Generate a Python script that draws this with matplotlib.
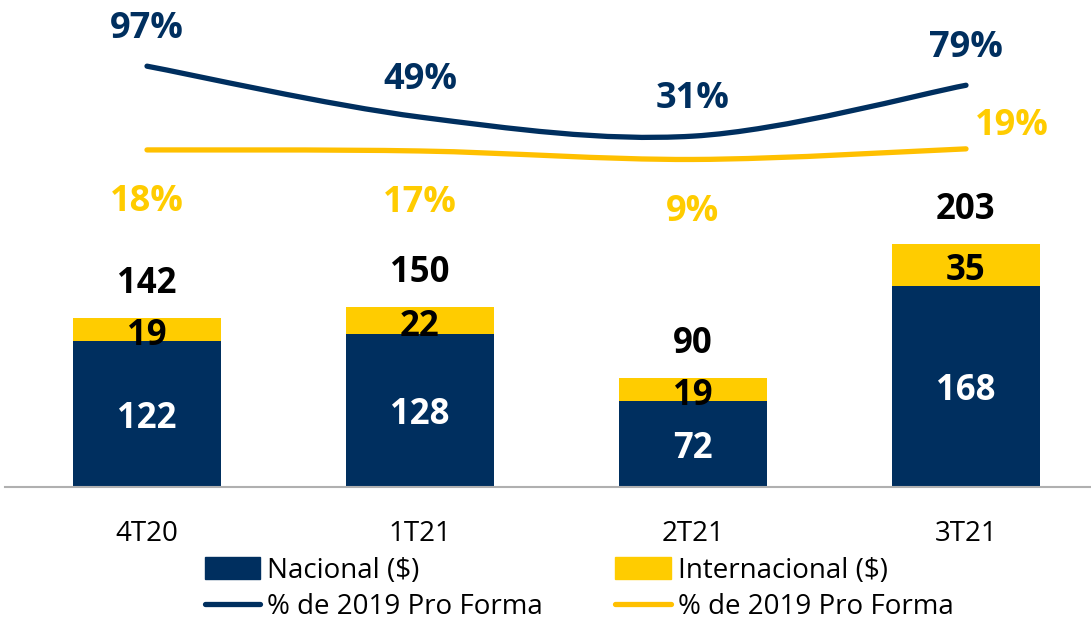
import numpy as np
import matplotlib.pyplot as plt
from matplotlib.path import Path
from matplotlib.patches import PathPatch, Patch
from matplotlib.lines import Line2D

plt.rcParams['font.family'] = ['Open Sans', 'DejaVu Sans']

quarters = ['4T20', '1T21', '2T21', '3T21']
nacional = [122, 128, 72, 168]
internacional = [19, 22, 19, 35]
totals = [142, 150, 90, 203]
pct_nacional = [97, 49, 31, 79]
pct_internacional = [18, 17, 9, 19]

NAVY = '#002f5f'
YELLOW = '#ffcc00'
YELLOW_LINE = '#ffc000'


def smooth_path(x, y):
    # catmull-rom style bezier, like excel's smoothed lines
    pts = np.column_stack([x, y]).astype(float)
    p = np.vstack([pts[0], pts, pts[-1]])
    verts = [pts[0]]
    codes = [Path.MOVETO]
    for i in range(1, len(p) - 2):
        c1 = p[i] + (p[i + 1] - p[i - 1]) / 6
        c2 = p[i + 1] - (p[i + 2] - p[i]) / 6
        verts += [c1, c2, p[i + 1]]
        codes += [Path.CURVE4] * 3
    return Path(verts, codes)


def label(axis, text, xy, dx, dy, color, size=25):
    # dy in points, nudged down a bit so glyphs sit like the original
    axis.annotate(text, xy, xytext=(dx, dy - 3.5), textcoords='offset points',
                  ha='center', va='center', fontsize=size, fontweight='bold', color=color)


W, H = 1091, 617
fig = plt.figure(figsize=(W / 100, H / 100), dpi=100)
base = 487
ax = fig.add_axes([5 / W, (H - base) / H, (W - 5) / W, base / H])
ax2 = ax.twinx()

x = np.arange(len(quarters))
width = 0.54

ax.bar(x, nacional, width, color=NAVY, zorder=2)
ax.bar(x, internacional, width, bottom=nacional, color=YELLOW, zorder=2)

ax.set_xlim(-142 / 273, 3 + 125 / 273)
ax.set_ylim(0, base / 1.197)

for xi, n, i, t in zip(x, nacional, internacional, totals):
    label(ax, str(n), (xi, n / 2), 0, 0, 'white')
    label(ax, str(i), (xi, n + i / 2), 0, -1, 'black')
    label(ax, str(t), (xi, n + i), 0, 28, 'black')

for side in ['top', 'right', 'left']:
    ax.spines[side].set_visible(False)
    ax2.spines[side].set_visible(False)
ax.spines['bottom'].set_color('#b0b0b0')
ax.spines['bottom'].set_linewidth(1.5)
ax2.spines['bottom'].set_visible(False)
ax.set_yticks([])
ax2.set_yticks([])
ax.set_xticks(x, quarters)
ax.tick_params(axis='x', length=0, pad=24, labelsize=20)

# percentage lines on a secondary scale
ax2.set_ylim(-(base - 169) / 1.06, 169 / 1.06)
ax2.add_patch(PathPatch(smooth_path(x, pct_nacional), facecolor='none', edgecolor=NAVY,
                        lw=3.8, capstyle='round', zorder=3))
ax2.add_patch(PathPatch(smooth_path(x, pct_internacional), facecolor='none', edgecolor=YELLOW_LINE,
                        lw=3.8, capstyle='round', zorder=3))

for xi, v in zip(x, pct_nacional):
    label(ax2, f'{v}%', (xi, v), 0, 30, NAVY, size=26)
for k, (xi, v) in enumerate(zip(x, pct_internacional)):
    dx, dy = (33, 20) if k == len(x) - 1 else (0, -34)
    label(ax2, f'{v}%', (xi, v), dx, dy, YELLOW, size=26)

handles = [Patch(color=NAVY), Line2D([], [], color=NAVY, lw=3.8, solid_capstyle='round'),
           Patch(color=YELLOW), Line2D([], [], color=YELLOW_LINE, lw=3.8, solid_capstyle='round')]
labels = ['Nacional ($)', '% de 2019 Pro Forma', 'Internacional ($)', '% de 2019 Pro Forma']
fig.legend(handles, labels, ncol=2, loc='upper left', bbox_to_anchor=(191 / W, 1 - 543 / H),
           frameon=False, fontsize=20, handlelength=2.0, handleheight=0.85,
           handletextpad=0.25, columnspacing=2.6, labelspacing=0.29, borderpad=0)

fig.savefig('out.png', dpi=100)
